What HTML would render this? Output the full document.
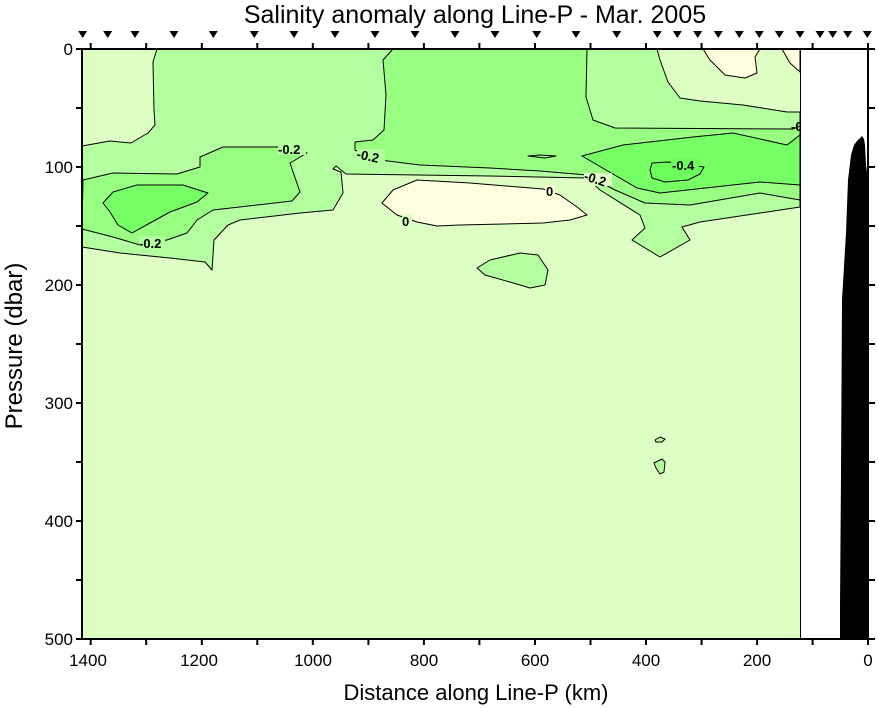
<!DOCTYPE html>
<html><head><meta charset="utf-8"><style>
html,body{margin:0;padding:0;background:#fff;}
svg{display:block;font-family:"Liberation Sans",Arial,sans-serif;}
</style></head><body>
<svg width="878" height="708" viewBox="0 0 878 708" xmlns="http://www.w3.org/2000/svg">
<rect x="0" y="0" width="878" height="708" fill="#fff"/>
<rect x="82" y="49" width="718" height="590" fill="#ddffc3"/>
<g stroke="#000" stroke-width="1" stroke-linejoin="round">
<path fill="#b4ff9f" d="M157,49 L153,62 L154,110 L155,125 L148,133 L131,143 L110,141 L82,146 L82,247 L120,253 L170,258 L205,262 L212,270 L214,240 L228,225 L240,220 L300,213 L333,210 L343,193 L341,172 L333,169 L336,166 L346,174 L490,176 L587,178 L600,190 L640,215 L645,228 L632,240 L660,257 L690,240 L682,227 L700,222 L760,213 L800,207 L800,112 L787,112 L743,105 L700,101 L680,98 L668,82 L660,60 L657,49 Z"/>
<path fill="#99ff82" d="M393,49 L383,60 L386,95 L384,130 L373,140 L355,142 L355,150 L365,155 L380,160 L420,165 L490,168 L540,171 L587,175 L615,190 L645,203 L690,205 L760,193 L800,200 L800,126 L793,129 L615,128 L593,120 L586,97 L587,49 Z"/>
<path fill="#99ff82" d="M83,180 L113,173 L177,174 L200,167 L200,157 L223,147 L277,147 L307,153 L290,163 L300,192 L292,201 L213,210 L197,220 L187,233 L167,240 L140,245 L113,237 L82,229 Z"/>
<path fill="#77ff66" d="M103,203 L113,192 L137,185 L183,185 L208,193 L197,202 L170,212 L150,223 L132,233 L118,225 L110,212 Z"/>
<path fill="#77ff66" d="M582,156 L623,145 L693,137 L733,133 L787,145 L800,135 L800,185 L760,182 L660,193 L637,188 Z"/>
<path fill="#6cff5c" d="M652,163 L668,162 L690,165 L704,167 L700,174 L688,180 L665,182 L652,178 L650,170 Z"/>
<path fill="#99ff82" d="M528,156 L540,155 L556,156 L545,158 Z"/>
<path fill="#ffffe0" d="M382,203 L393,190 L417,180 L470,183 L543,189 L560,195 L577,207 L587,215 L570,220 L543,223 L460,225 L437,226 L417,222 L397,215 Z"/>
<path fill="#ffffe0" d="M703,49 L710,60 L725,75 L745,78 L757,73 L755,57 L760,49 Z"/>
<path fill="#ffffe0" d="M782,49 L790,63 L800,72 L800,49 Z"/>
<path fill="#b4ff9f" d="M477,268 L490,260 L520,253 L538,255 L548,270 L545,285 L530,288 L510,282 L485,275 Z"/>
<path fill="#b4ff9f" d="M655,440 L660,437 L665,439 L662,442 L656,442 Z"/>
<path fill="#b4ff9f" d="M654,463 L662,459 L665,462 L664,472 L660,474 L656,468 Z"/>
</g>
<g font-size="13" font-weight="bold" fill="#000">
<rect x="278" y="142" width="28" height="13" fill="#b4ff9f"/><text x="278" y="154">-0.2</text>
<rect x="357" y="149" width="28" height="13" fill="#b4ff9f"/><text x="357" y="161" transform="rotate(12 370 155)">-0.2</text>
<rect x="139" y="236" width="26" height="13" fill="#b4ff9f"/><text x="139" y="248">-0.2</text>
<rect x="584" y="173" width="28" height="13" fill="#ddffc3"/><text x="584" y="184" transform="rotate(18 597 179)">-0.2</text>
<rect x="671" y="158" width="28" height="13" fill="#6cff5c"/><text x="672" y="170">-0.4</text>
<rect x="402" y="214" width="10" height="13" fill="#ddffc3"/><text x="402" y="226">0</text>
<rect x="545" y="185" width="10" height="13" fill="#ffffe0"/><text x="546" y="196">0</text>
<text x="791" y="131">-0</text>
</g>
<rect x="801" y="49" width="67" height="590" fill="#fff"/>
<line x1="800.5" y1="49" x2="800.5" y2="639" stroke="#000" stroke-width="1"/>
<path fill="#000" d="M840,639 L840,607 L841,475 L842,300 L846,233 L848,180 L851,155 L854,145 L857,141 L860,138 L862,136 L864,139 L865,145 L866,165 L868,180 L868,639 Z"/>
<rect x="82" y="49" width="786" height="590" fill="none" stroke="#000" stroke-width="2"/>
<g stroke="#000" stroke-width="2">
<path d="M90.7,49v-6M146.2,49v-6M201.8,49v-6M257.3,49v-6M312.8,49v-6M368.4,49v-6M423.9,49v-6M479.4,49v-6M535,49v-6M590.5,49v-6M646,49v-6M701.6,49v-6M757.1,49v-6M812.6,49v-6M868,49v-6"/>
<path d="M90.7,639v6M146.2,639v6M201.8,639v6M257.3,639v6M312.8,639v6M368.4,639v6M423.9,639v6M479.4,639v6M535,639v6M590.5,639v6M646,639v6M701.6,639v6M757.1,639v6M812.6,639v6M868,639v6"/>
<path d="M82,49h-6M82,108h-6M82,167h-6M82,226h-6M82,285h-6M82,344h-6M82,403h-6M82,462h-6M82,521h-6M82,580h-6M82,639h-6"/>
<path d="M868,49h7M868,108h7M868,167h7M868,226h7M868,285h7M868,344h7M868,403h7M868,462h7M868,521h7M868,580h7M868,639h7"/>
</g>
<g fill="#000">
<path d="M78.2,31h9l-4.5,7z M103.2,31h9l-4.5,7z M130.5,31h9l-4.5,7z M169.5,31h9l-4.5,7z M208.8,31h9l-4.5,7z M249.8,31h9l-4.5,7z M289.5,31h9l-4.5,7z M330.5,31h9l-4.5,7z M370.5,31h9l-4.5,7z M410.5,31h9l-4.5,7z M450.5,31h9l-4.5,7z M490.5,31h9l-4.5,7z M532.2,31h9l-4.5,7z M571.5,31h9l-4.5,7z M612.2,31h9l-4.5,7z M652.8,31h9l-4.5,7z M672.8,31h9l-4.5,7z M693.2,31h9l-4.5,7z M713.8,31h9l-4.5,7z M734.8,31h9l-4.5,7z M754.8,31h9l-4.5,7z M774.8,31h9l-4.5,7z M795.5,31h9l-4.5,7z M815.5,31h9l-4.5,7z M828.2,31h9l-4.5,7z M843.2,31h9l-4.5,7z M862.8,31h9l-4.5,7z"/>
</g>
<g font-size="17" fill="#000" text-anchor="middle">
<text x="88" y="666">1400</text><text x="199" y="666">1200</text><text x="313" y="666">1000</text>
<text x="424" y="666">800</text><text x="535" y="666">600</text><text x="646" y="666">400</text>
<text x="757" y="666">200</text><text x="868" y="666">0</text>
</g>
<g font-size="17" fill="#000" text-anchor="end">
<text x="73" y="55">0</text><text x="73" y="173">100</text><text x="73" y="291">200</text>
<text x="73" y="409">300</text><text x="73" y="527">400</text><text x="73" y="645">500</text>
</g>
<text x="475" y="23" font-size="25" text-anchor="middle">Salinity anomaly along Line-P - Mar. 2005</text>
<text x="476" y="700" font-size="22" text-anchor="middle">Distance along Line-P (km)</text>
<text x="0" y="0" font-size="24" text-anchor="middle" transform="translate(22 346) rotate(-90)">Pressure (dbar)</text>
</svg>
</body></html>
